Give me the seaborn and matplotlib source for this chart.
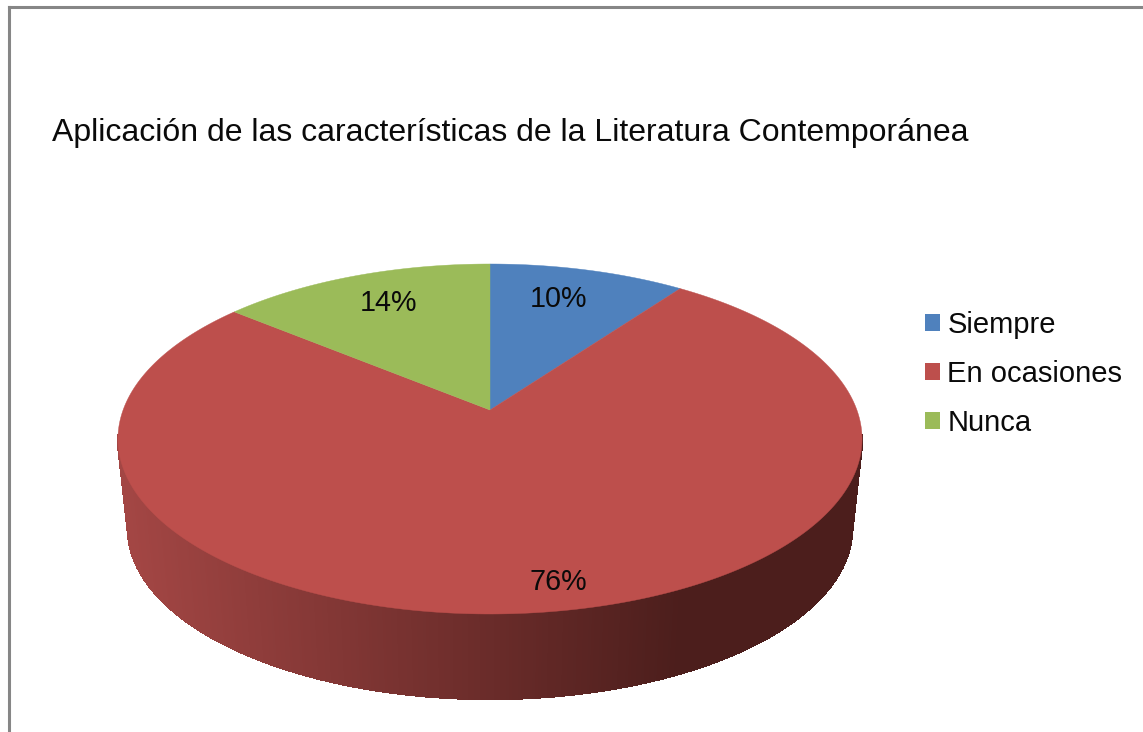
import matplotlib
matplotlib.use('Agg')
import matplotlib.pyplot as plt
from matplotlib.collections import LineCollection, PolyCollection
from matplotlib.patches import Patch, Polygon
import numpy as np
import seaborn as sns

categories = ['Siempre', 'En ocasiones', 'Nunca']
values = [10, 76, 14]
pct_labels = ['10%', '76%', '14%']
colors = ['#4f81bd', '#bd4f4c', '#9bbb59']

# tilted disc, numbers found by measuring the rim in the picture
APEX_X, APEX_Y = 490, 410
RX, RY, TILT = 366.9, 170.2, 0.1657
FLOOR_Y, FLOOR_SCALE = 500.5, 0.973
label_pos = [(559, 299), (558, 582), (388, 303)]


def project(theta_deg, radius=1.0, apex_y=APEX_Y, scale=1.0):
    t = np.radians(theta_deg)
    x = radius * np.cos(t)
    y = radius * np.sin(t)
    w = 1 + TILT * y
    return np.column_stack([APEX_X + scale * RX * x / w, apex_y - scale * RY * y / w])


sns.set_theme(style='white')
plt.rcParams['font.family'] = ['Liberation Sans', 'DejaVu Sans']

fig = plt.figure(figsize=(11.43, 7.32), dpi=100)
ax = fig.add_axes([9 / 1143, 0, 1134 / 1143, 725 / 732])

wedges, _ = ax.pie(values, colors=colors, startangle=90, counterclock=False)
spans = [(w.theta1, w.theta2) for w in wedges]
for w in wedges:
    w.remove()

ax.set_aspect('auto')
ax.set_frame_on(True)
ax.set_xlim(9, 1143)
ax.set_ylim(732, 7)
ax.set_xticks([])
ax.set_yticks([])
sns.despine(ax=ax, top=False, right=True, bottom=True)
for side in ['left', 'top']:
    ax.spines[side].set_color('#868686')
    ax.spines[side].set_linewidth(2.2)

# side wall of the big slice, shaded left to right (only the front part shows)
t1, t2 = spans[1]
angles = np.linspace(t1, t2, 700)
angles = angles[np.sin(np.radians(angles)) < -0.14]
top_rim = project(angles)
floor_rim = project(angles, apex_y=FLOOR_Y, scale=FLOOR_SCALE)
quads = [
    [top_rim[i], top_rim[i + 1], floor_rim[i + 1], floor_rim[i]]
    for i in range(len(angles) - 1)
]
shades = sns.blend_palette(['#a34644', '#4c1e1c'], 256)
mid_x = top_rim[:-1, 0]
shade_idx = np.clip((mid_x - 125) / (680 - 125), 0, 1) * 255
wall_colors = [shades[int(i)] for i in shade_idx]
# antialiasing off here or the thin quads leave stripes
wall = PolyCollection(
    quads, facecolors=wall_colors, edgecolors=wall_colors,
    linewidths=1.0, antialiaseds=False, zorder=0.5,
)
ax.add_collection(wall)
floor_segs = [[floor_rim[i], floor_rim[i + 1]] for i in range(len(angles) - 1)]
ax.add_collection(LineCollection(floor_segs, colors=wall_colors, linewidths=0.8, zorder=0.5))

# top face
for (a, b), color in zip(spans, colors):
    rim = project(np.linspace(a, b, 300))
    pts = np.vstack([[APEX_X, APEX_Y], rim])
    ax.add_patch(Polygon(pts, closed=True, facecolor=color, edgecolor=color, linewidth=0.3))

for text, (x, y) in zip(pct_labels, label_pos):
    ax.text(x, y, text, ha='center', va='center', fontsize=20.7, color='#0a0a0a')

ax.text(52, 133, 'Aplicación de las características de la Literatura Contemporánea',
        ha='left', va='center', fontsize=23, color='#0a0a0a')

handles = [Patch(facecolor=c, edgecolor=c, linewidth=0) for c in colors]
ax.legend(
    handles, categories, loc='upper left', bbox_to_anchor=(0.785, 0.617),
    frameon=False, fontsize=21, handlelength=0.51, handleheight=0.51,
    handletextpad=0.24, labelspacing=0.72, labelcolor='#0a0a0a',
)

fig.savefig('out.png', dpi=100)
